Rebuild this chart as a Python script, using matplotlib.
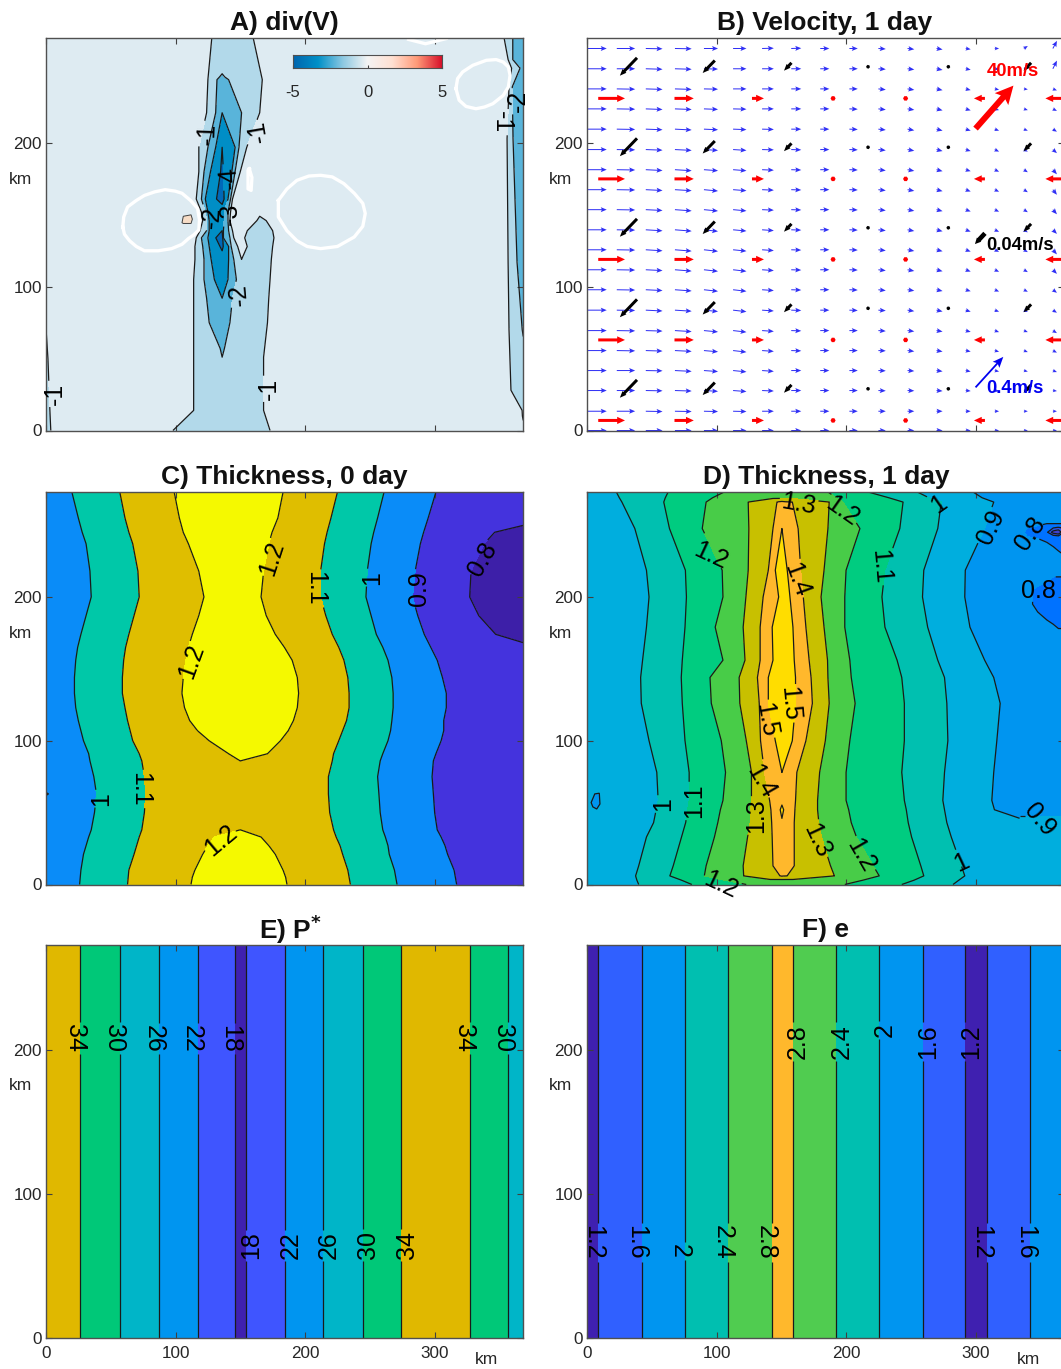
import numpy as np
import matplotlib
matplotlib.use('Agg')
import matplotlib.pyplot as plt
from matplotlib.colors import LinearSegmentedColormap
from matplotlib.transforms import Affine2D

plt.rcParams['font.family'] = ['Liberation Sans', 'DejaVu Sans']
plt.rcParams['mathtext.default'] = 'bf'
plt.rcParams['axes.unicode_minus'] = False

W, H = 1061, 1369

# -------------------------------
# Panel A: divergence
# -------------------------------
a_y = [273, 244, 221, 197, 180, 161, 152, 146, 139, 134, 128, 119, 105, 92, 75, 51, 14, 0]
a_x = [
    [20, 128, 132, 134, 136, 138, 143, 160, 170, 172, 174, 345],
    [20, 125, 132, 134, 136, 138, 141, 167, 172, 175, 177, 345],
    [20, 124, 131, 134, 136, 140, 151, 165, 170, 172, 174, 345],
    [20, 118, 125, 131, 136, 146, 149, 155, 165, 167, 170, 345],
    [20, 118, 122, 127, 136, 143.5, 146, 150, 165, 167, 170, 345],
    [20, 116, 120, 123, 136, 140.5, 142.5, 144, 165, 167, 170, 345],
    [20, 120, 123, 125, 136, 137.5, 140.5, 142.5, 150, 165, 169, 345],
    [20, 121, 124, 126, 136, 137.5, 140.5, 142, 152, 165, 170, 345],
    [20, 119, 124, 126, 136, 137, 141, 144, 149, 158, 175, 345],
    [20, 116, 120, 125, 136, 137, 142, 145, 147, 156, 176, 345],
    [20, 115, 121, 126, 136, 141, 143, 148, 151, 158, 175, 345],
    [20, 115, 122, 127.5, 136, 141, 145, 148, 151, 160, 174, 345],
    [20, 114, 122, 130, 136, 140.5, 147, 151, 154, 162, 173, 345],
    [20, 114, 124, 134, 136, 138, 144, 150, 155, 163, 172, 345],
    [20, 114, 126, 133, 136, 140, 142, 150, 155, 163, 171, 345],
    [20, 114, 132, 135, 136, 137, 140, 153, 158, 163, 168, 345],
    [20, 114, 123, 133, 136, 139, 148, 153, 158, 163, 168, 345],
    [20, 98, 108, 123, 136, 143, 148, 153, 158, 163, 173, 345],
]
a_z = [
    [-.5, -1, -1.3, -1.3, -1.4, -1.3, -1.3, -1, -.5, -.5, -.5, -.5],
    [-.5, -1, -2, -2.05, -2.1, -2.05, -2, -1, -.5, -.5, -.5, -.5],
    [-.5, -1, -2, -2.95, -3, -2.95, -2, -1, -.5, -.5, -.5, -.5],
    [-.5, -1, -2, -3, -4, -3, -2, -1, -.5, -.5, -.5, -.5],
    [-.5, -1, -2, -3, -4.15, -3, -2, -1, -.5, -.5, -.5, -.5],
    [-.5, -1, -2, -3, -4.5, -3, -2, -1, -.5, -.5, -.5, -.5],
    [-.5, -1, -2, -3, -3.3, -3, -2, -1, -.5, -.9, -.7, -.5],
    [-.5, -1, -2, -3, -3.3, -3, -2, -1, -.5, -1.1, -1, -.5],
    [-.5, -1, -2, -3, -4, -3, -2, -1, -.5, -1.2, -1, -.5],
    [-.5, -1, -2, -3, -4.8, -3, -2, -1, -.5, -1.2, -1, -.5],
    [-.5, -1, -2, -3, -4.2, -3, -2, -1, -.5, -1.3, -1, -.5],
    [-.5, -1, -2, -3, -3.6, -3, -2, -1.05, -1, -1.3, -1, -.5],
    [-.5, -1, -2, -3, -3.3, -3, -2, -1.4, -1.3, -1.3, -1, -.5],
    [-.5, -1, -2, -2.9, -3, -2.9, -2, -1.5, -1.3, -1.3, -1, -.5],
    [-.5, -1, -2, -2.3, -2.5, -2.3, -2, -1.4, -1.3, -1.3, -1, -.5],
    [-.5, -1, -1.8, -1.9, -2, -1.9, -1.8, -1.3, -1.3, -1.3, -1, -.5],
    [-.5, -1, -1.2, -1.25, -1.3, -1.25, -1.2, -1.2, -1.2, -1.2, -1, -.5],
    [-.5, -1, -1.1, -1.15, -1.2, -1.15, -1.1, -1.1, -1.1, -1.1, -1, -.5],
]
# sliver on the left edge
a_left_y = [91, 71, 50, 14, 0]
a_left_x = [[0, 2, 20], [0, .3, 20], [0, 1.5, 20], [0, 3, 20], [0, 3.7, 20]]
a_left_z = [[-.7, -.6, -.5], [-1, -.9, -.5], [-1.1, -1, -.5], [-1.2, -1, -.5], [-1.2, -1, -.5]]
# trough on the right edge
a_right_y = [273, 258, 252, 239, 203, 117, 70, 28, 14, 0]
a_right_x = [
    [345, 353.7, 360.4, 368.5],
    [345, 356.8, 360.4, 368.5],
    [345, 359.5, 366, 368.5],
    [345, 357.5, 360, 368.5],
    [345, 356, 360.6, 368.5],
    [345, 356.8, 363.7, 368.5],
    [345, 357.5, 367.7, 368.5],
    [345, 359, 367.8, 368.5],
    [345, 367.6, 367.8, 368.5],
    [345, 367.9, 367.95, 368.5],
]
a_right_z = [
    [-.5, -1, -2, -2.6], [-.5, -1, -2, -2.6], [-.5, -1, -2, -2.2], [-.5, -1, -2, -2.6],
    [-.5, -1, -2, -2.8], [-.5, -1, -2, -2.6], [-.5, -1, -2, -2.05], [-.5, -1, -1.4, -1.6],
    [-.5, -1, -1.1, -1.2], [-.5, -.7, -.75, -.8],
]
a_levels = [-10, -4, -3, -2, -1, 10]
a_lines = [-4, -3, -2, -1]
a_colors = ['#0068b8', '#008ec6', '#59b4da', '#b2d9ea', '#deebf2']

# zero contour pieces
loop1_x = [59.3, 60, 63, 69.7, 76, 84, 92, 99.7, 105, 111.6, 117, 118.5, 118, 114, 110, 105, 97, 86.7, 76, 69.7, 64.5, 60.6, 59.3]
loop1_y = [141.5, 148.5, 155.5, 160, 163.5, 166, 167.5, 166.5, 165, 160, 154.5, 146.5, 139.5, 136, 133.5, 129.5, 126.5, 125, 125, 128, 132, 136.5, 141.5]
loop2_x = [179.4, 186, 193.7, 203, 212, 221, 230, 238, 244.6, 246.5, 244.6, 238, 225, 212, 201.6, 193.7, 186, 179.4, 179.4]
loop2_y = [160, 168, 174, 177, 177.5, 176.4, 171.7, 165, 158, 151, 142, 134.6, 128, 126.5, 128, 132, 139, 148.5, 160]
loop3_x = [316.5, 317.8, 321.7, 329.5, 340, 347.6, 353, 357, 358.3, 357, 353, 345, 338.6, 332, 324.3, 319, 316.5]
loop3_y = [237.8, 244.8, 249.4, 254, 257.5, 258, 256.3, 252.8, 247, 238.9, 233, 227.3, 225, 223.8, 225.4, 229.7, 237.8]
loop4_x = [157, 159, 158.4, 156, 156, 157]
loop4_y = [182, 176, 167, 168, 181, 182]
loop5_x = [280, 293, 309]
loop5_y = [272, 269, 272.6]
tan_x = [105, 106, 112, 113, 112, 106]
tan_y = [144.5, 149, 150, 147, 144, 144]

a_labels = [(-1, 123, 206, 88), (-1, 161, 207, 100), (-1, 169, 29, 90),
            (-2, 147, 94, 95), (-3, 143, 151, 90), (-4, 138, 176, 95), (-2, 124.5, 148.5, 85)]
a_left_labels = [(-1, 4.4, 25.5, 90)]
a_right_labels = [(-1, 355, 214.5, -90), (-2, 362, 229, 90)]

# -------------------------------
# Panel B: velocity
# -------------------------------
blue_x = [.5, 23, 45.4, 67.9, 90.3, 112.8, 135.2, 157.7, 180.1, 202.6, 225, 247.5, 269.9, 292.4, 314.8, 337.3, 359.7]
blue_y = [265.7, 251.6, 237.6, 223.7, 209.6, 195.4, 181.4, 167.5, 153.6, 139.6,
          125.7, 111.8, 97.9, 83.7, 69.5, 55.6, 41.7, 27.8, 13.4, 0]
# cm/s
blue_u = [18.7, 18, 16.4, 16.4, 13.8, 13.1, 11.5, 9.8, 8.9, 8.2, 7.2, 6.6, 5.9, 4.9, 4.3, 3.9, 4]
blue_v = [
    [0, 0, -.3, -.3, 0, 0, .3, .3, 0, 0, -.5, -.8, -1, -.8, 0, 2.5, 7.5],
    [0, 0, -.5, -.5, -.3, 0, 0, 0, 0, 0, -.5, -.8, -1.2, -1, -.5, 0, 8],
    [0, -.3, -.5, -.5, -.3, 0, 0, 0, 0, 0, -.8, -1, -1.3, -1.2, -.8, -.5, -1.5],
    [0, -.3, -.6, -.6, -.5, -.3, 0, 0, 0, -.3, -.8, -1, -1.5, -1.5, -1.2, -1.2, -2],
    [0, -.3, -.6, -.8, -.6, -.5, -.3, 0, 0, -.3, -.8, -1.2, -1.5, -1.5, -1.5, -1.5, -2.5],
    [0, -.3, -.6, -.8, -.8, -.8, -.3, -.3, 0, -.3, -.8, -1.2, -1.5, -1.5, -2, -2, -3.5],
    [0, -.3, -.8, -1, -1, -1, -.5, -.3, 0, -.3, -.8, -1.2, -1.5, -1.5, -2, -2.5, -4.5],
    [0, -.3, -.8, -1, -1.3, -1, -.5, -.3, 0, -.3, -.8, -1.2, -1.5, -1.8, -2, -2.5, -5],
    [0, -.3, -.8, -1.2, -1.3, -1.2, -.5, -.3, 0, -.3, -.8, -1.2, -1.5, -1.8, -2, -2.5, -4.5],
    [0, -.3, -1, -1.3, -1.5, -1.2, -.8, -.3, 0, -.3, -.8, -1.2, -1.5, -1.8, -2, -2.5, -4],
    [0, -.3, -1, -1.3, -1.5, -1.3, -.8, -.3, 0, -.3, -.8, -1.2, -1.5, -1.8, -2, -2.3, -4.5],
    [0, -.3, -.8, -1.3, -1.5, -1.5, -.8, -.3, 0, -.3, -.8, -1.2, -1.5, -1.8, -2, -2.3, -4],
    [0, -.3, -.8, -1.2, -1.5, -1.5, -.8, -.3, 0, -.3, -.8, -1, -1.3, -1.5, -1.8, -2, -3],
    [0, -.3, -.8, -1, -1.3, -1.5, -.8, -.3, 0, -.3, -.5, -1, -1.3, -1.5, -1.5, -1.8, -2.5],
    [0, -.3, -.5, -1, -1.3, -1.5, -.8, -.3, 0, 0, -.5, -.8, -1, -1.3, -1.5, -1.5, -2.5],
    [0, -.3, -.5, -.8, -1.2, -1.5, -.8, -.3, 0, 0, -.3, -.8, -1, -1, -1.2, -1.5, -2],
    [0, 0, -.3, -.8, -1, -1.3, -.8, 0, 0, 0, -.3, -.5, -.8, -1, -1, -1, -1.5],
    [0, 0, -.3, -.5, -.8, -1, -.5, 0, 0, 0, -.3, -.3, -.5, -.5, -.5, -.5, -.5],
    [0, 0, -.3, -.3, -.3, -.3, 0, 0, 0, 0, 0, 0, 0, 0, 0, 0, 0],
    [0, 0, 0, 0, 0, 0, 0, 0, 0, 0, 0, 0, 0, 0, 0, 0, 0],
]
# wind, m/s
red_x = [19, 75, 132, 190, 246, 303, 361]
red_y = [231, 175, 119, 63, 7]
red_u = [19, 13.7, 8.5, 3.3, 2.6, -7.8, -13]
# ice, m/s
black_x = [32, 94, 155, 217, 279, 340]
black_y = [253, 197, 141, 85, 29]
black_u = [-.048, -.034, -.021, -.007, -.007, -.021]
black_v = [-.05, -.035, -.022, -.007, -.007, -.022]

# -------------------------------
# Panel C: thickness, 0 day
# -------------------------------
c_y = [273, 255, 245, 237, 218, 200, 187, 174, 165, 156, 144, 133, 123, 114, 107, 100, 91, 86, 75, 63, 50, 38, 33, 27, 21, 10, 5, 0]
c_x = [
    [0, 20, 57, 99, 150, 183, 225, 261, 301, 345, 369],
    [0, 25, 61, 103, 150, 179, 220, 256, 295, 352, 369],
    [0, 28, 64, 106, 150, 174.5, 217, 253, 291.5, 346, 369],
    [0, 31, 67, 110, 150, 172, 215, 251, 289, 338, 369],
    [0, 34, 71, 118, 150, 168, 212, 248, 285, 328, 369],
    [0, 35, 72, 122, 150, 166, 212, 247, 283, 327, 369],
    [0, 31, 68, 118, 150, 170, 216, 251, 287, 334, 369],
    [0, 27, 64, 113, 150, 177, 221, 255, 292, 347, 369],
    [0, 24.5, 61.5, 110, 150, 184, 226, 260, 297, 352, 369],
    [0, 23, 60, 108, 150, 190, 230, 264, 302, 345, 369],
    [0, 22, 59, 106, 150, 194, 233, 267, 306, 350, 369],
    [0, 22, 59, 105, 150, 195, 234, 268, 309, 350, 369],
    [0, 23, 61, 107, 150, 194, 234, 268, 309, 350, 369],
    [0, 25, 63, 111, 150, 191, 232, 267, 307, 350, 369],
    [0, 27, 65, 117, 150, 187, 229, 266, 307, 350, 369],
    [0, 29, 67, 126, 150, 181, 226, 264, 305, 350, 369],
    [0, 33, 72, 141, 150, 171, 222, 260, 301, 345, 369],
    [0, 34, 74, 140, 150, 167, 221, 258, 299, 345, 369],
    [0, 37, 76, 120, 150, 190, 218, 256, 298, 345, 369],
    [0, 39, 77, 120, 150, 190, 218, 257, 299, 345, 369],
    [0, 37.5, 76, 120, 150, 190, 219, 258, 300, 345, 369],
    [0, 35, 74, 130, 150, 165, 222, 260, 302, 345, 369],
    [0, 33, 72, 130, 150, 166, 224, 262, 305, 348, 369],
    [0, 31, 70, 125, 150, 172, 227, 264, 308, 350, 369],
    [0, 29, 68, 121, 150, 177, 229, 265, 310, 352, 369],
    [0, 27, 64, 115, 150, 183, 233, 269, 315, 355, 369],
    [0, 26.5, 63.5, 113, 150, 185, 234, 270, 316, 356, 369],
    [0, 26, 63, 112, 150, 186, 235, 271, 317, 357, 369],
]
c_z = [
    [.95, 1, 1.1, 1.2, 1.25, 1.2, 1.1, 1, .9, .84, .82],
    [.95, 1, 1.1, 1.2, 1.25, 1.2, 1.1, 1, .9, .84, .805],
    [.95, 1, 1.1, 1.2, 1.25, 1.2, 1.1, 1, .9, .8, .795],
    [.95, 1, 1.1, 1.2, 1.25, 1.2, 1.1, 1, .9, .8, .79],
    [.95, 1, 1.1, 1.2, 1.24, 1.2, 1.1, 1, .9, .8, .775],
    [.95, 1, 1.1, 1.2, 1.23, 1.2, 1.1, 1, .9, .8, .77],
    [.95, 1, 1.1, 1.2, 1.24, 1.2, 1.1, 1, .9, .8, .775],
    [.95, 1, 1.1, 1.2, 1.25, 1.2, 1.1, 1, .9, .8, .79],
    [.95, 1, 1.1, 1.2, 1.26, 1.2, 1.1, 1, .9, .83, .805],
    [.95, 1, 1.1, 1.2, 1.27, 1.2, 1.1, 1, .9, .84, .82],
    [.95, 1, 1.1, 1.2, 1.27, 1.2, 1.1, 1, .9, .85, .84],
    [.95, 1, 1.1, 1.2, 1.27, 1.2, 1.1, 1, .9, .85, .84],
    [.95, 1, 1.1, 1.2, 1.26, 1.2, 1.1, 1, .9, .85, .84],
    [.95, 1, 1.1, 1.2, 1.25, 1.2, 1.1, 1, .9, .85, .84],
    [.95, 1, 1.1, 1.2, 1.24, 1.2, 1.1, 1, .9, .85, .84],
    [.95, 1, 1.1, 1.2, 1.23, 1.2, 1.1, 1, .9, .85, .84],
    [.95, 1, 1.1, 1.2, 1.21, 1.2, 1.1, 1, .9, .85, .84],
    [.95, 1, 1.1, 1.19, 1.2, 1.19, 1.1, 1, .9, .85, .84],
    [.95, 1, 1.1, 1.18, 1.18, 1.18, 1.1, 1, .9, .85, .84],
    [.895, 1, 1.1, 1.18, 1.18, 1.18, 1.1, 1, .9, .85, .84],
    [.95, 1, 1.1, 1.18, 1.18, 1.18, 1.1, 1, .9, .85, .84],
    [.95, 1, 1.1, 1.19, 1.2, 1.19, 1.1, 1, .9, .85, .84],
    [.95, 1, 1.1, 1.2, 1.22, 1.2, 1.1, 1, .9, .85, .84],
    [.95, 1, 1.1, 1.2, 1.24, 1.2, 1.1, 1, .9, .85, .84],
    [.95, 1, 1.1, 1.2, 1.25, 1.2, 1.1, 1, .9, .85, .84],
    [.95, 1, 1.1, 1.2, 1.26, 1.2, 1.1, 1, .9, .85, .84],
    [.95, 1, 1.1, 1.2, 1.265, 1.2, 1.1, 1, .9, .85, .84],
    [.95, 1, 1.1, 1.2, 1.27, 1.2, 1.1, 1, .9, .85, .84],
]
c_levels = [0, .8, .9, 1, 1.1, 1.2, 2]
c_lines = [.8, .9, 1, 1.1, 1.2]
c_colors = ['#3d1fa8', '#4433dd', '#0a8cf8', '#00c8a8', '#dfbe00', '#f5f900']
c_labels = [(1, 39.7, 59.6, 90), (1.1, 77, 66.5, -90), (1.2, 133.7, 28.3, 40), (1.2, 109.7, 156, 70),
            (1.2, 170, 228, 72), (1.1, 210.7, 205.8, -90), (1, 247, 213.5, 90), (.9, 283, 206, 90),
            (.8, 336.8, 226.7, 60)]

# -------------------------------
# Panel D: thickness, 1 day
# -------------------------------
d_y = [273, 269, 266, 247.6, 218.6, 200, 179, 156, 144, 126, 100, 78, 58.5, 52, 43, 33, 13, 6, 3, 0]
d_x = [
    [0, 22.7, 62.7, 106, 123, 140, 148, 150.5, 153, 160, 185, 186, 217, 255, 298, 334],
    [0, 25, 60.5, 97, 124, 143, 148, 150.5, 153, 158.5, 186, 192.5, 233, 264, 305, 334],
    [0, 27, 59.3, 92, 124.5, 146.7, 148, 150.5, 153, 158.5, 187, 197.6, 244, 273.5, 314, 334],
    [0, 37, 63.7, 89, 125, 143.6, 149.5, 150.5, 152, 163, 186, 210.7, 241.5, 270.8, 307, 334],
    [0, 46, 76, 104.4, 124.5, 140, 145.4, 150.5, 154.6, 165, 183, 200, 230, 260, 292, 334],
    [0, 48, 76.8, 105, 122.7, 136, 148, 150.5, 156.7, 167, 180.7, 199, 227.7, 259, 291.6, 334],
    [0, 46, 75.7, 99, 120.6, 133.7, 143, 150.5, 159, 169, 183, 199, 230, 263, 295.6, 334],
    [0, 43, 73.6, 105, 122, 133.7, 143.6, 150.5, 160, 171.5, 185.7, 202.9, 239.4, 270.8, 307, 334],
    [0, 41.5, 72.8, 95, 117.5, 131.6, 140, 150.5, 161, 173, 186, 204, 243, 276, 314, 334],
    [0, 42, 73.6, 96, 118, 133, 140, 150.5, 161, 174, 187, 207, 245, 277.8, 319, 334],
    [0, 48, 75.7, 103.7, 123, 134, 145.4, 150.5, 158.5, 169, 184, 202.9, 245, 278.6, 316.4, 334],
    [0, 54, 78.9, 107, 127, 137, 149.5, 150.5, 152, 162, 179.6, 200, 243, 276, 314, 334],
    [0, 55, 78.9, 105, 127, 141, 148.5, 150.5, 152.5, 161, 178, 200, 245, 274.7, 312.5, 334],
    [0, 53.5, 77.8, 103, 126.5, 142, 148.5, 150.5, 152.5, 160.5, 178, 202, 246.5, 276, 314.4, 334],
    [0, 51.5, 76.2, 101, 126, 142.6, 148.5, 150.5, 152.5, 160, 179, 204, 248, 277.8, 324, 334],
    [0, 46, 73, 98.4, 124, 143, 148.5, 150.5, 152.5, 160, 181, 208, 250.6, 281.2, 327, 334],
    [0, 40, 66.6, 92, 120.6, 143.6, 148.5, 150.5, 152.5, 160, 188, 221, 257.7, 289, 329.5, 334],
    [0, 37.6, 64, 90.6, 121, 149, 150, 150.5, 151, 154.5, 191, 225.6, 260, 291.6, 332, 334],
    [0, 38.6, 73, 106, 122, 140, 148, 150.5, 153, 160, 191, 213, 252.5, 287, 332, 334],
    [0, 40, 81, 123, 125, 140, 148, 150.5, 153, 160, 191, 199, 243, 282.5, 332, 334],
]
d_z = [
    [.95, 1, 1.1, 1.2, 1.25, 1.26, 1.26, 1.26, 1.26, 1.26, 1.25, 1.2, 1.1, 1, .9, .85],
    [.95, 1, 1.1, 1.2, 1.28, 1.28, 1.28, 1.28, 1.28, 1.28, 1.28, 1.2, 1.1, 1, .9, .85],
    [.95, 1, 1.1, 1.2, 1.3, 1.4, 1.41, 1.42, 1.41, 1.4, 1.3, 1.2, 1.1, 1, .9, .85],
    [.95, 1, 1.1, 1.2, 1.3, 1.4, 1.48, 1.5, 1.48, 1.4, 1.3, 1.2, 1.1, 1, .9, .85],
    [.95, 1, 1.1, 1.2, 1.3, 1.4, 1.5, 1.55, 1.5, 1.4, 1.3, 1.2, 1.1, 1, .9, .85],
    [.95, 1, 1.1, 1.2, 1.3, 1.4, 1.5, 1.55, 1.5, 1.4, 1.3, 1.2, 1.1, 1, .9, .85],
    [.95, 1, 1.1, 1.2, 1.3, 1.4, 1.5, 1.55, 1.5, 1.4, 1.3, 1.2, 1.1, 1, .9, .85],
    [.95, 1, 1.1, 1.2, 1.3, 1.4, 1.5, 1.55, 1.5, 1.4, 1.3, 1.2, 1.1, 1, .9, .85],
    [.95, 1, 1.1, 1.2, 1.3, 1.4, 1.5, 1.55, 1.5, 1.4, 1.3, 1.2, 1.1, 1, .9, .85],
    [.95, 1, 1.1, 1.2, 1.3, 1.4, 1.5, 1.55, 1.5, 1.4, 1.3, 1.2, 1.1, 1, .9, .85],
    [.95, 1, 1.1, 1.2, 1.3, 1.4, 1.5, 1.55, 1.5, 1.4, 1.3, 1.2, 1.1, 1, .9, .85],
    [.95, 1, 1.1, 1.2, 1.3, 1.4, 1.49, 1.5, 1.49, 1.4, 1.3, 1.2, 1.1, 1, .9, .85],
    [.92, 1, 1.1, 1.2, 1.3, 1.4, 1.46, 1.48, 1.46, 1.4, 1.3, 1.2, 1.1, 1, .9, .87],
    [.95, 1, 1.1, 1.2, 1.3, 1.4, 1.49, 1.52, 1.49, 1.4, 1.3, 1.2, 1.1, 1, .9, .89],
    [.95, 1, 1.1, 1.2, 1.3, 1.4, 1.46, 1.49, 1.46, 1.4, 1.3, 1.2, 1.1, 1, .9, .905],
    [.95, 1, 1.1, 1.2, 1.3, 1.4, 1.45, 1.46, 1.45, 1.4, 1.3, 1.2, 1.1, 1, .93, .93],
    [.95, 1, 1.1, 1.2, 1.3, 1.4, 1.45, 1.45, 1.45, 1.4, 1.3, 1.2, 1.1, 1, .95, .95],
    [.95, 1, 1.1, 1.2, 1.3, 1.4, 1.405, 1.41, 1.405, 1.4, 1.3, 1.2, 1.1, 1, .95, .95],
    [.95, 1, 1.1, 1.2, 1.28, 1.28, 1.28, 1.28, 1.28, 1.28, 1.28, 1.2, 1.1, 1, .95, .95],
    [.95, 1, 1.1, 1.2, 1.25, 1.25, 1.25, 1.25, 1.25, 1.25, 1.25, 1.2, 1.1, 1, .95, .95],
]
# low spots near the right edge
d_right_x = [334, 340, 348, 355, 360, 364, 369]
d_right_y = [273, 258, 251, 248, 245, 242, 238, 232, 222, 214, 205, 195, 184, 175, 150, 100, 60, 52, 45, 40, 0]
d_right_z = [
    [.86, .86, .86, .86, .86, .86, .86],
    [.85, .84, .84, .84, .84, .84, .84],
    [.84, .84, .82, .80, .80, .80, .80],
    [.83, .80, .78, .76, .70, .68, .72],
    [.83, .78, .76, .72, .55, .50, .72],
    [.83, .80, .79, .78, .76, .74, .77],
    [.84, .83, .82, .80, .78, .78, .78],
    [.85, .85, .84, .83, .82, .80, .79],
    [.85, .85, .84, .84, .83, .83, .82],
    [.85, .84, .83, .81, .80, .80, .80],
    [.85, .81, .79, .78, .78, .78, .78],
    [.85, .81, .79, .77, .77, .77, .77],
    [.85, .83, .81, .80, .79, .78, .78],
    [.85, .85, .84, .83, .82, .81, .81],
    [.85, .85, .85, .85, .85, .85, .85],
    [.85, .85, .85, .85, .85, .85, .85],
    [.87, .87, .87, .87, .87, .87, .87],
    [.89, .89, .89, .89, .89, .89, .89],
    [.905, .905, .905, .905, .905, .905, .905],
    [.92, .92, .92, .92, .92, .92, .92],
    [.95, .95, .95, .95, .95, .95, .95],
]
island_x = [3.2, 6, 9.5, 10, 7.5, 4.5, 3.2]
island_y = [57, 63, 63.5, 56, 52.5, 54, 57]
d_levels = [0, .5, .6, .7, .8, .9, 1, 1.1, 1.2, 1.3, 1.4, 1.5, 3]
d_lines = [.5, .6, .7, .8, .9, 1, 1.1, 1.2, 1.3, 1.4, 1.5]
d_colors = ['#3f20b0', '#3f40d0', '#2b55e8', '#0072ff', '#0095f0', '#00aede',
            '#00c0b0', '#00cc80', '#48cc48', '#c8c000', '#ffb82c', '#ffdd00']
d_labels = [(1.3, 163.7, 267, -10), (1.2, 203.7, 265, -35), (1, 268, 265, 35), (.9, 307, 250, 65),
            (1.2, 98, 232.5, -25), (1.1, 232, 221, -85), (1.4, 165, 213, -70), (1.5, 161, 126, -85),
            (1.5, 140, 115, -80), (1.4, 136, 73.5, -60), (1.3, 126, 48, 90), (1.3, 181, 32, -65),
            (1.2, 216, 22.5, -60), (1.2, 105, 4, -25), (1, 54, 56, 90), (1.1, 79, 58, 90),
            (1, 286, 18, 25)]
d_right_labels = [(.8, 340, 245, 55), (.8, 350, 206, 0), (.9, 353, 46, -50)]

# -------------------------------
# Panels E and F: profiles along x
# -------------------------------
e_x = [0, 26.6, 57, 87.3, 117, 146.3, 150, 154.1, 184.4, 214.2, 244.5, 274.3, 300, 327.1, 356.8, 369]
e_z = [36, 34, 30, 26, 22, 18, 17, 18, 22, 26, 30, 34, 36, 34, 30, 28.8]
e_levels = [10, 18, 22, 26, 30, 34, 40]
e_lines = [18, 22, 26, 30, 34]
e_colors = ['#3f20b0', '#3f55ff', '#0095f0', '#00b5c8', '#00c878', '#e0b800']
e_labels = [(34, 26.6, 208, -90), (30, 57, 208, -90), (26, 87.3, 208, -90), (22, 117, 208, -90),
            (18, 146.3, 208, -90), (34, 327.1, 208, -90), (30, 356.8, 208, -90),
            (18, 154.1, 64, 90), (22, 184.4, 64, 90), (26, 214.2, 64, 90), (30, 244.5, 64, 90),
            (34, 274.3, 64, 90)]

f_x = [0, 8.8, 42.3, 75.7, 109.2, 142.6, 150, 158.8, 192.3, 225.7, 259.2, 292, 300, 308.8, 342.2, 369]
f_z = [1.1, 1.2, 1.6, 2, 2.4, 2.8, 3, 2.8, 2.4, 2, 1.6, 1.2, 1.1, 1.2, 1.6, 1.9]
f_levels = [0, 1.2, 1.6, 2, 2.4, 2.8, 4]
f_lines = [1.2, 1.6, 2, 2.4, 2.8]
f_colors = ['#3f20b0', '#3060ff', '#0095f0', '#00bfb0', '#50cc50', '#ffb82c']
f_labels = [(2.8, 158.8, 206, 90), (2.4, 192.3, 206, 90), (2, 225.7, 214, 90), (1.6, 259.2, 206, 90),
            (1.2, 292, 206, 90), (1.2, 8.8, 66, -90), (1.6, 42.3, 66, -90), (2, 75.7, 60, -90),
            (2.4, 109.2, 66, -90), (2.8, 142.6, 66, -90), (1.2, 308.8, 66, -90), (1.6, 342.2, 66, -90)]
profile_y = [0, 273]

div_ticks = [-5, 0, 5]
div_cmap_colors = ['#0065ae', '#0090c8', '#8cc8e2', '#f4f4f4', '#ffe0d2', '#ff9a78', '#d8102a']


def make_axes(left, top, show_x=False):
    width, height = 477, 392.5
    ax = plt.figure(1).add_axes([left / W, 1 - (top + height) / H, width / W, height / H])
    ax.set_xlim(0, 368.3)
    ax.set_ylim(0, 273)
    ax.set_xticks([0, 100, 200, 300])
    ax.set_yticks([0, 100, 200])
    ax.tick_params(direction='in', length=4, width=0.8, top=True, right=True, labelsize=12.3,
                   color='#404040', labelcolor='#262626', labelbottom=show_x, pad=3)
    ax.tick_params(axis='x', pad=6)
    for s in ax.spines.values():
        s.set_color('#505050')
        s.set_linewidth(1.0)
    return ax


def draw_field(ax, x, y, z, levels, lines, colors):
    # x and z are tables, one row per y, so contours can follow the picture
    x = np.array(x, dtype=float)
    z = np.array(z, dtype=float) + 1e-4
    yy = np.repeat(np.array(y, dtype=float)[:, None], x.shape[1], axis=1)
    ax.contourf(x, yy, z, levels=levels, colors=colors)
    # one contour set per level, so a label lands on the level it names
    return {lv: ax.contour(x, yy, z, levels=[lv], colors='#1a1a1a', linewidths=0.9, linestyles='solid')
            for lv in lines}


def add_labels(ax, sets, labels):
    for level, x, y, rot in labels:
        cs = sets[level]
        cs.clabel(manual=[(x, y)], fmt='%g', fontsize=18, inline=True, inline_spacing=2, colors='k')
        t = cs.labelTexts[-1]
        t.set_rotation(rot)
        t.set_clip_on(False)
        # nudge towards the baseline so the digits sit on the gap
        a = np.deg2rad(rot)
        t.set_transform(ax.transData + Affine2D().translate(5.5 * np.sin(a), -5.5 * np.cos(a)))


fig = plt.figure(1, figsize=(W / 100, H / 100), dpi=100)

# Panel A
ax = make_axes(46, 38)
ax.set_facecolor(a_colors[-1])
cs = draw_field(ax, a_x, a_y, a_z, a_levels, a_lines, a_colors)
add_labels(ax, cs, a_labels)
cs = draw_field(ax, a_left_x, a_left_y, a_left_z, a_levels, [-1], a_colors)
add_labels(ax, cs, a_left_labels)
cs = draw_field(ax, a_right_x, a_right_y, a_right_z, a_levels, [-2, -1], a_colors)
add_labels(ax, cs, a_right_labels)
for lx, ly in [(loop1_x, loop1_y), (loop2_x, loop2_y), (loop3_x, loop3_y), (loop4_x, loop4_y), (loop5_x, loop5_y)]:
    ax.plot(lx, ly, color='white', lw=2.4)
ax.fill(tan_x, tan_y, fc='#f6dcc6', ec='#404040', lw=0.7)

# colour bar inside panel A
cax = fig.add_axes([293 / W, 1 - 68 / H, 149 / W, 13 / H])
cmap = LinearSegmentedColormap.from_list('div', div_cmap_colors)
cax.imshow(np.linspace(-5, 5, 256)[None, :], cmap=cmap, aspect='auto', extent=[-5, 5, 0, 1])
cax.set_xticks(div_ticks)
cax.set_yticks([])
cax.tick_params(direction='in', length=2, labelsize=12, pad=12, color='#404040', labelcolor='#262626')
for s in cax.spines.values():
    s.set_color('#505050')
    s.set_linewidth(0.8)

# Panel B
ax = make_axes(587, 38)
bx, by = np.meshgrid(blue_x, blue_y)
bu = np.tile(blue_u, (len(blue_y), 1)) / 100
bv = np.array(blue_v) / 100
ax.quiver(bx, by, bu, bv, color='#3030f5', angles='uv', scale_units='inches', scale=0.98,
          units='dots', width=1.0, headwidth=5, headlength=6, headaxislength=5)
rx, ry = np.meshgrid(red_x, red_y)
ax.quiver(rx, ry, np.tile(red_u, (len(red_y), 1)), np.zeros(rx.shape), color='#ff0000', pivot='mid',
          angles='uv', scale_units='inches', scale=71, units='dots', width=3,
          headwidth=2.4, headlength=2.6, headaxislength=2.6, minlength=1.7)
kx, ky = np.meshgrid(black_x, black_y)
ax.quiver(kx, ky, np.tile(black_u, (len(black_y), 1)), np.tile(black_v, (len(black_y), 1)), color='black',
          pivot='mid', angles='uv', scale_units='inches', scale=0.28, units='dots', width=3,
          headwidth=1.8, headlength=2.2, headaxislength=2.2, minlength=1.3)
ax.quiver([300], [210], [26.9], [30.5], color='#ff0000', angles='uv', scale_units='inches', scale=71,
          units='dots', width=6, headwidth=3, headlength=3, headaxislength=2.6)
ax.quiver([300], [30], [.272], [.299], color='#0000f0', angles='uv', scale_units='inches', scale=0.98,
          units='dots', width=1.8, headwidth=5, headlength=6, headaxislength=5)
ax.quiver([303.4], [133.4], [-.028], [-.03], color='black', pivot='mid', angles='uv', scale_units='inches',
          scale=0.28, units='dots', width=4.6, headwidth=1.3, headlength=1.3, headaxislength=1.3)
ax.text(328.7, 249.4, '40m/s', color='#ff0000', fontsize=13.3, fontweight='bold', ha='center', va='center')
ax.text(334.7, 128.8, '0.04m/s', color='black', fontsize=13.3, fontweight='bold', ha='center', va='center')
ax.text(330.8, 29, '0.4m/s', color='#0000f0', fontsize=13.3, fontweight='bold', ha='center', va='center')

# Panel C
ax = make_axes(46, 492)
cs = draw_field(ax, c_x, c_y, c_z, c_levels, c_lines, c_colors)
add_labels(ax, cs, c_labels)

# Panel D
ax = make_axes(587, 492)
cs = draw_field(ax, d_x, d_y, d_z, d_levels, d_lines, d_colors)
add_labels(ax, cs, d_labels)
cs = draw_field(ax, [d_right_x] * len(d_right_y), d_right_y, d_right_z, d_levels, d_lines, d_colors)
add_labels(ax, cs, d_right_labels)
ax.fill(island_x, island_y, fc='#0095f0', ec='#1a1a1a', lw=0.9)

# Panels E and F
ax = make_axes(46, 945, show_x=True)
cs = draw_field(ax, [e_x, e_x], profile_y, [e_z, e_z], e_levels, e_lines, e_colors)
add_labels(ax, cs, e_labels)

ax = make_axes(587, 945, show_x=True)
cs = draw_field(ax, [f_x, f_x], profile_y, [f_z, f_z], f_levels, f_lines, f_colors)
add_labels(ax, cs, f_labels)

# Titles and axis names
titles = [('A) div(V)', 284, 23), ('B) Velocity, 1 day', 825, 23), ('C) Thickness, 0 day', 284, 477),
          ('D) Thickness, 1 day', 826, 477), ('E) P$^{*}$', 290, 929), ('F) e', 826, 930)]
for txt, x, y in titles:
    fig.text(x / W, 1 - y / H, txt, fontsize=19, fontweight='bold', ha='center', va='center', color='#111111')

for x, y in [(20, 179), (561, 179), (20, 633), (561, 633), (20, 1086), (561, 1086), (486, 1359), (1028, 1359)]:
    fig.text(x / W, 1 - y / H, 'km', fontsize=12.5, ha='center', va='center', color='#262626')

fig.savefig('out.png', dpi=100)
